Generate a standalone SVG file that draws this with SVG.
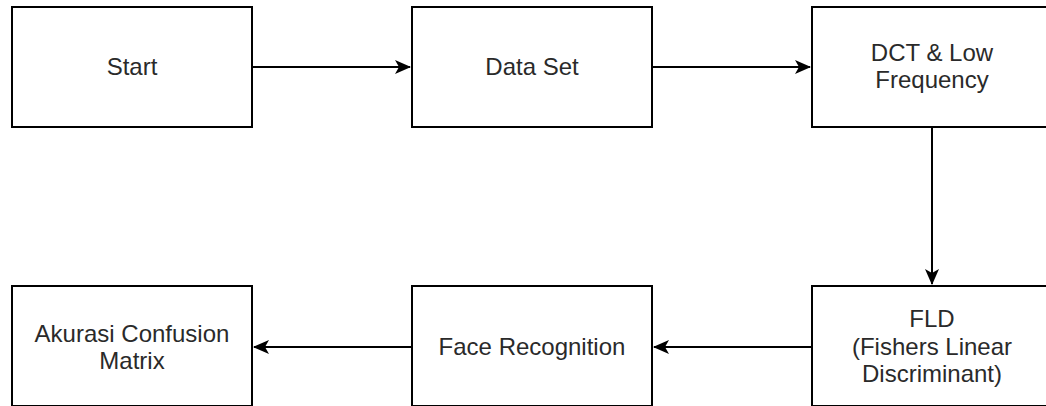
<svg xmlns="http://www.w3.org/2000/svg" width="1046" height="406" viewBox="0 0 1046 406">
<style>
.box{fill:#fff;stroke:#000;stroke-width:2}
.lbl{font-family:"Liberation Sans",Arial,sans-serif;font-size:24px;fill:#2a2a2a;text-anchor:middle}
.edge{fill:none;stroke:#000;stroke-width:2}
</style>
<defs>
<marker id="arr" markerUnits="userSpaceOnUse" viewBox="0 0 16 14" markerWidth="16" markerHeight="14" refX="15" refY="7" orient="auto">
<path d="M0,0 L16,7 L0,14 L4,7 Z" fill="#000"/>
</marker>
</defs>
<rect width="1046" height="406" fill="#fff"/>
<g id="connectors">
<path class="edge" d="M252,67 L410,67" marker-end="url(#arr)"/>
<path class="edge" d="M652,67 L810,67" marker-end="url(#arr)"/>
<path class="edge" d="M932,127 L932,284" marker-end="url(#arr)"/>
<path class="edge" d="M812,347 L654,347" marker-end="url(#arr)"/>
<path class="edge" d="M412,347 L254,347" marker-end="url(#arr)"/>
</g>
<g id="start">
<rect class="box" x="12" y="7" width="240" height="120"/>
<text class="lbl" x="132" y="75">Start</text>
</g>
<g id="dataset">
<rect class="box" x="412" y="7" width="240" height="120"/>
<text class="lbl" x="532" y="75">Data Set</text>
</g>
<g id="dct">
<rect class="box" x="812" y="7" width="240" height="120"/>
<text class="lbl" x="932" y="61">DCT &amp; Low</text>
<text class="lbl" x="932" y="88">Frequency</text>
</g>
<g id="fld">
<rect class="box" x="812" y="286" width="240" height="120"/>
<text class="lbl" x="932" y="327">FLD</text>
<text class="lbl" x="932" y="354.5">(Fishers Linear</text>
<text class="lbl" x="932" y="382">Discriminant)</text>
</g>
<g id="face">
<rect class="box" x="412" y="286" width="240" height="120"/>
<text class="lbl" x="532" y="355">Face Recognition</text>
</g>
<g id="akurasi">
<rect class="box" x="12" y="286" width="240" height="120"/>
<text class="lbl" x="132" y="341.5">Akurasi Confusion</text>
<text class="lbl" x="132" y="369">Matrix</text>
</g>
</svg>
